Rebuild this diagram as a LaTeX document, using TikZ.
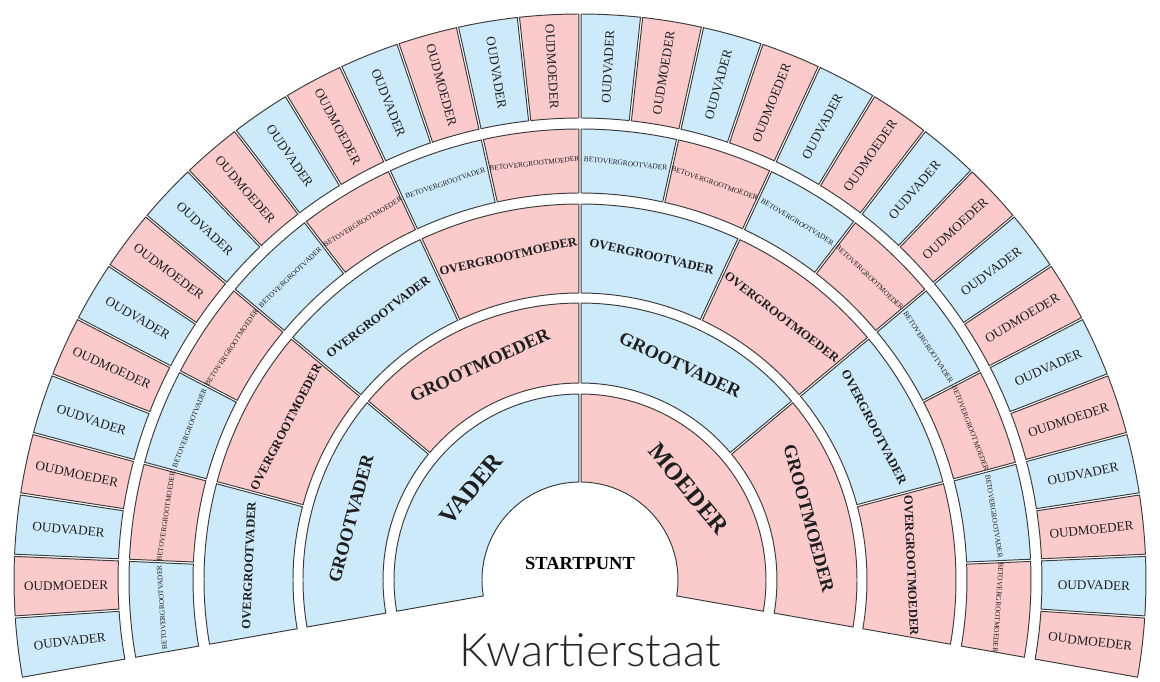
\documentclass[tikz,border=0pt]{standalone}
\usepackage{fontspec}
\setmainfont{Liberation Serif}
\newfontfamily\titlefont{Lato Light}
\usepackage{tikz}

\definecolor{vaderblue}{RGB}{205,234,250}
\definecolor{moederpink}{RGB}{251,203,203}
\definecolor{rimline}{RGB}{60,60,60}

% fonts per ring
\newcommand\ringA{\fontsize{14}{16}\selectfont\bfseries}
\newcommand\ringB{\fontsize{10.5}{12}\selectfont\bfseries}
\newcommand\ringC{\fontsize{7.2}{8}\selectfont\bfseries}
\newcommand\ringD{\fontsize{4.2}{5}\selectfont}
\newcommand\ringE{\fontsize{7.5}{9}\selectfont}

\begin{document}
\begin{tikzpicture}[
    x=0.02cm,y=0.02cm,
    seg/.style={draw=rimline, line width=0.55pt},
    lbl/.style={text=black!88, inner sep=0pt, align=center}
]
\useasboundingbox (-580,-102) rectangle (580,580);

% rings: level/inner radius/outer radius/font/father/mother
\foreach \lvl/\rin/\rout/\fnt/\vname/\mname in {
    1/98/186/\ringA/VADER/MOEDER,
    2/197/277/\ringB/GROOTVADER/GROOTMOEDER,
    3/287/376/\ringC/OVERGROOTVADER/OVERGROOTMOEDER,
    4/387/451/\ringD/BETOVERGROOTVADER/BETOVERGROOTMOEDER,
    5/462/566/\ringE/OUDVADER/OUDMOEDER}{
  \pgfmathtruncatemacro\n{2^\lvl}
  \pgfmathsetmacro\stp{200/\n}
  \pgfmathsetmacro\gi{1.1/\rin*57.2958}
  \pgfmathsetmacro\go{1.1/\rout*57.2958}
  \pgfmathsetmacro\rmid{(\rin+\rout)/2}
  \foreach \i in {1,...,\n}{
    \pgfmathsetmacro\aone{190-(\i-1)*\stp}
    \pgfmathsetmacro\atwo{190-\i*\stp}
    \pgfmathsetmacro\mid{(\aone+\atwo)/2}
    \pgfmathsetmacro\ain{\aone-\gi}
    \pgfmathsetmacro\bin{\atwo+\gi}
    \pgfmathsetmacro\aout{\aone-\go}
    \pgfmathsetmacro\bout{\atwo+\go}
    \ifodd\i \def\cellcol{vaderblue}\def\who{\vname}%
    \else \def\cellcol{moederpink}\def\who{\mname}\fi
    % text along the ring, outer ring radial
    \ifnum\lvl<5 \pgfmathsetmacro\rot{\mid-90}%
    \else \pgfmathsetmacro\rot{\mid>90 ? \mid-180 : \mid}\fi
    \filldraw[seg, fill=\cellcol] (\ain:\rin) arc[start angle=\ain, end angle=\bin, radius=\rin]
      -- (\bout:\rout) arc[start angle=\bout, end angle=\aout, radius=\rout] -- cycle;
    \node[lbl, font=\fnt, rotate=\rot] (s\lvl-\i) at (\mid:\rmid) {\who};
  }
}

\node[font=\fontsize{10.5}{12}\selectfont\bfseries] (start) at (0,17) {STARTPUNT};
\node[font=\titlefont\fontsize{26}{30}\selectfont, text=black!85] (title) at (10,-70) {Kwartierstaat};
\end{tikzpicture}
\end{document}
